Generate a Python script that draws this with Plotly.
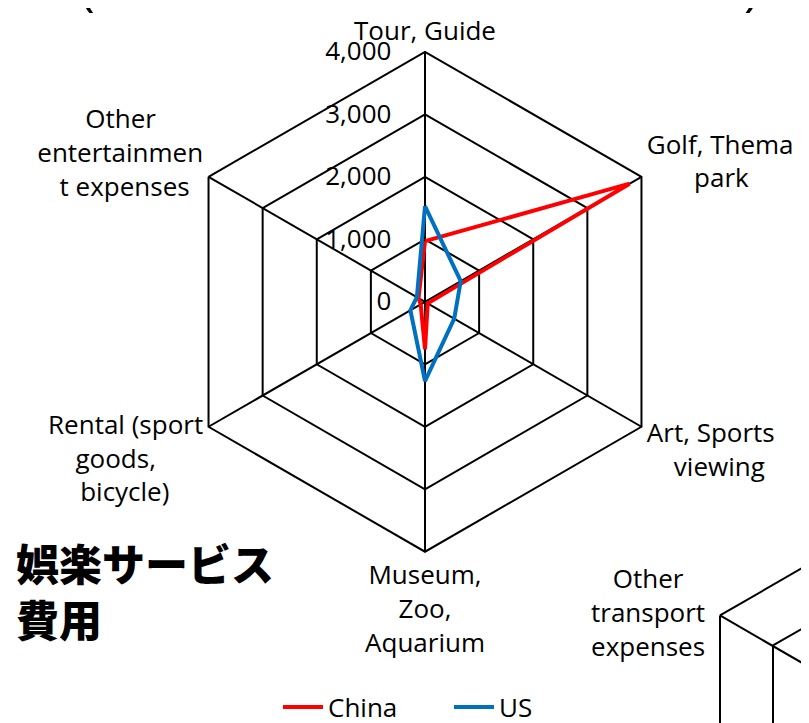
import plotly.graph_objects as go

# kategorier (medurs från toppen)
kategorier = ["Tour, Guide", "Golf, Thema<br>park", "Art, Sports<br>viewing",
              "Museum,<br>Zoo,<br>Aquarium", "Rental (sport<br>goods,<br>bicycle)",
              "Other<br>entertainmen<br>t expenses"]
china = [970, 3780, 50, 760, 80, 120]
us = [1530, 660, 540, 1270, 270, 150]
tick_varden = [0, 1000, 2000, 3000, 4000]
tick_text = ["0", "1,000", "2,000", "3,000", "4,000"]

W, H = 809, 723
FONT = "Open Sans"
NBSP = "\u00a0"


def px(x):
    return x / W


def py(y):
    return 1 - y / H


def centrera(etikett, sida):
    # plotly vänster/högerjusterar etiketter på sidorna, fyll ut med nbsp så de ser centrerade ut
    rader = etikett.split("<br>")
    langst = max(len(r) for r in rader)
    ut = []
    for r in rader:
        fyll = NBSP * round((langst - len(r)) * 1.0)
        ut.append(fyll + r if sida == "hoger" else r + fyll)
    return "<br>".join(ut)


sidor = ["mitt", "hoger", "hoger", "mitt", "vanster", "vanster"]
etiketter = [centrera(k, s) if s != "mitt" else k for k, s in zip(kategorier, sidor)]

fig = go.Figure()
# stäng polygonen genom att upprepa första punkten
fig.add_trace(go.Scatterpolar(r=china + china[:1], theta=kategorier + kategorier[:1], mode="lines",
                              name="China", line=dict(color="#FF0000", width=4)))
fig.add_trace(go.Scatterpolar(r=us + us[:1], theta=kategorier + kategorier[:1], mode="lines",
                              name="US", line=dict(color="#0070C0", width=4)))

cx, cy, R = 417, 295, 251
fig.update_layout(
    width=W, height=H,
    margin=dict(l=0, r=0, t=0, b=0),
    paper_bgcolor="white",
    font=dict(family=FONT, size=26, color="black"),
    polar=dict(
        domain=dict(x=[px(cx - R), px(cx + R)], y=[py(cy + R), py(cy - R)]),
        gridshape="linear",
        bgcolor="white",
        angularaxis=dict(direction="clockwise", rotation=90, showline=True, linecolor="black",
                         linewidth=2, gridcolor="black", gridwidth=2, ticks="",
                         tickmode="array", tickvals=kategorier, ticktext=etiketter,
                         tickfont=dict(size=26)),
        radialaxis=dict(range=[0, 4000], tickvals=tick_varden, ticktext=tick_text, angle=90,
                        tickangle=90, side="counterclockwise", showline=False, gridcolor="black",
                        gridwidth=2, ticks="outside", ticklen=24, tickcolor="rgba(0,0,0,0)",
                        tickfont=dict(size=26)),
    ),
    legend=dict(orientation="h", x=px(270), xanchor="left", y=py(702), yanchor="middle",
                font=dict(size=26), itemwidth=40, entrywidth=116, entrywidthmode="pixels"),
)

# rubrik
fig.add_annotation(text="娯楽サービス<br>費用", x=px(6), y=py(584), xref="paper", yref="paper",
                   xanchor="left", yanchor="middle", align="left", showarrow=False,
                   font=dict(family="Noto Sans CJK JP", size=43, color="black", weight=900))

# avskuren huvudrubrik
fig.add_annotation(text="(", x=px(70), y=py(14), xref="paper", yref="paper", xanchor="left",
                   yanchor="bottom", showarrow=False, font=dict(size=50))
fig.add_annotation(text=")", x=px(753), y=py(14), xref="paper", yref="paper", xanchor="right",
                   yanchor="bottom", showarrow=False, font=dict(size=50))

# del av nästa diagram (utanför bild)
fig.add_annotation(text="Other<br>transport<br>expenses", x=px(640), y=py(607), xref="paper", yref="paper",
                   xanchor="center", yanchor="middle", showarrow=False, font=dict(size=26))
linjer = [((712, 610), (812, 552)), ((712, 610), (712, 726)), ((712, 610), (812, 668)),
          ((765, 640), (812, 613)), ((765, 640), (765, 726))]
for (x0, y0), (x1, y1) in linjer:
    fig.add_shape(type="line", xref="paper", yref="paper", x0=px(x0), y0=py(y0), x1=px(x1), y1=py(y1),
                  line=dict(color="black", width=2))

fig.write_html("out.html")
